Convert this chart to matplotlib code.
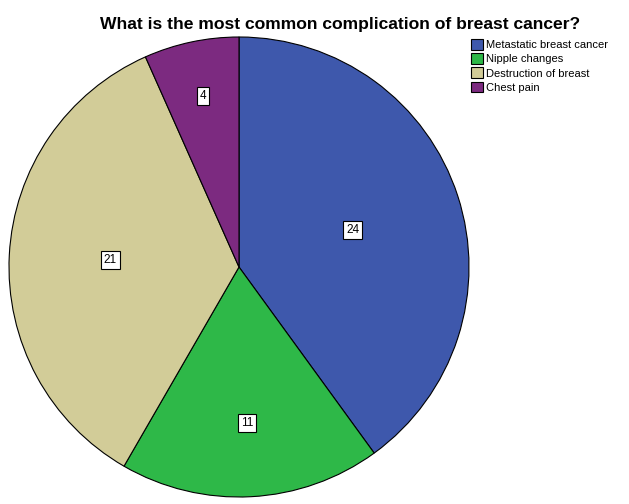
import matplotlib.pyplot as plt
import numpy as np

plt.rcParams['font.family'] = ['Liberation Sans', 'DejaVu Sans']

# data
categories = ['Metastatic breast cancer', 'Nipple changes', 'Destruction of breast', 'Chest pain']
counts = [24, 11, 21, 4]
colors = ['#3e58ac', '#2eb848', '#d2cc98', '#7c2a80']

fig = plt.figure(figsize=(6.29, 5.04), dpi=100)
ax = fig.add_axes([9 / 629, 7 / 504, 460 / 629, 460 / 504])

wedges, _ = ax.pie(counts, colors=colors, startangle=90, counterclock=False,
                   radius=1.0, wedgeprops=dict(edgecolor='black', linewidth=0.8))
ax.set_xlim(-1, 1)
ax.set_ylim(-1, 1)
ax.set_aspect('equal')
ax.axis('off')

# value labels in white boxes
label_r = [0.52, 0.68, 0.56, 0.76]
for w, c, r in zip(wedges, counts, label_r):
    ang = np.deg2rad((w.theta1 + w.theta2) / 2)
    ax.text(r * np.cos(ang), r * np.sin(ang), str(c), ha='center', va='center',
            fontsize=8.5, bbox=dict(facecolor='white', edgecolor='black', linewidth=0.8, pad=2))

fig.text(340 / 629, 1 - 24 / 504, 'What is the most common complication of breast cancer?',
         ha='center', va='center', fontsize=12.6, fontweight='bold')

leg = fig.legend(wedges, categories, loc='upper left', bbox_to_anchor=(471 / 629, 1 - 39 / 504),
                 frameon=False, fontsize=8, handlelength=1.1, handleheight=1.1,
                 handletextpad=0.25, labelspacing=0.28, borderpad=0, borderaxespad=0)

plt.savefig('out.png', dpi=100)
